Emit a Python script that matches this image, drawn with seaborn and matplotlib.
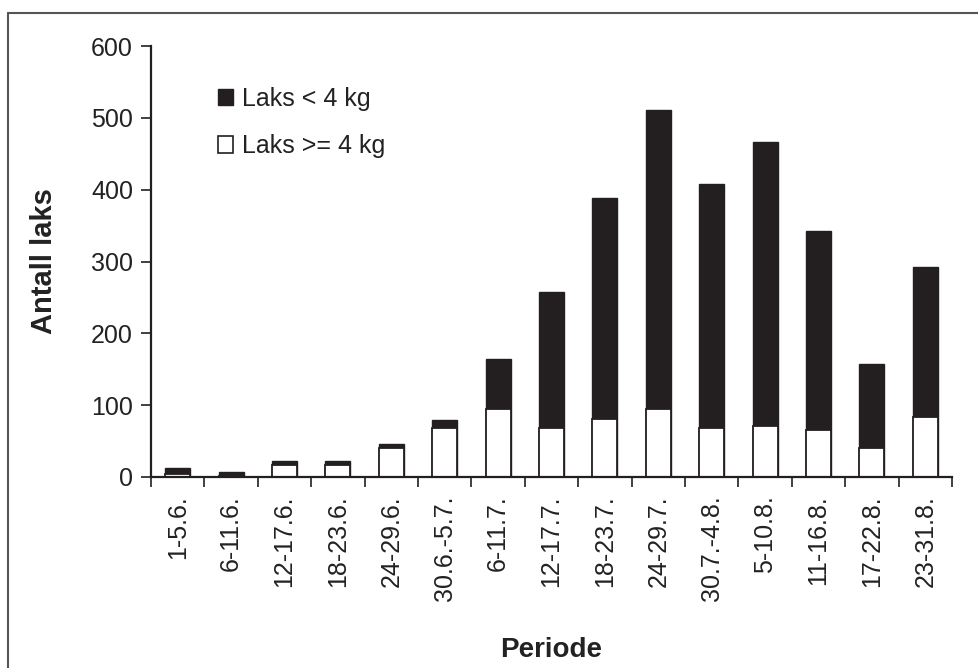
import matplotlib
matplotlib.use("Agg")
import matplotlib.pyplot as plt
from matplotlib.lines import Line2D
from matplotlib.patches import Patch
import seaborn as sns
import numpy as np
import pandas as pd

periods = ["1-5.6.", "6-11.6.", "12-17.6.", "18-23.6.", "24-29.6.", "30.6.-5.7.",
           "6-11.7.", "12-17.7.", "18-23.7.", "24-29.7.", "30.7.-4.8.", "5-10.8.",
           "11-16.8.", "17-22.8.", "23-31.8."]
total = [13, 7, 22, 22, 46, 80, 164, 258, 388, 511, 408, 466, 342, 158, 293]
large = [4, 1, 17, 17, 41, 68, 95, 68, 81, 95, 68, 71, 65, 41, 83]

df = pd.DataFrame({"Periode": periods, "total": total, "large": large})

sns.set_style("white")
plt.rcParams["font.family"] = ["Liberation Sans", "DejaVu Sans"]

DARK = "#231f20"
fig = plt.figure(figsize=(9.79, 6.68), dpi=100)
ax = fig.add_axes([151/979, 1-477/668, (952-151)/979, (477-46)/668])

sns.barplot(data=df, x="Periode", y="total", color=DARK, width=0.47,
            edgecolor=DARK, linewidth=1, saturation=1, ax=ax)
sns.barplot(data=df, x="Periode", y="large", color="white", width=0.47,
            edgecolor=DARK, linewidth=1.3, saturation=1, ax=ax)

ax.set_xlim(-0.5, len(periods) - 0.5)
ax.set_ylim(0, 600)
ax.set_yticks(np.arange(0, 601, 100))
ax.tick_params(axis="y", which="major", direction="out", length=7, width=1.2,
               color=DARK, labelsize=18, pad=6, left=True, labelcolor="#222222")
ax.set_xticks(range(len(periods)))
ax.set_xticklabels(periods, rotation=90, fontsize=18, color="#222222")
ax.tick_params(axis="x", which="major", length=0, pad=13)
ax.set_xticks(np.arange(-0.5, len(periods) + 0.5, 1), minor=True)
ax.tick_params(axis="x", which="minor", direction="out", length=7, width=1.2,
               color=DARK, bottom=True)

for s in ["top", "right"]:
    ax.spines[s].set_visible(False)
for s in ["left", "bottom"]:
    ax.spines[s].set_color(DARK)
    ax.spines[s].set_linewidth(1.6)

ax.set_ylabel("Antall laks", fontsize=21, fontweight="bold", labelpad=24, color="#222222")
ax.set_xlabel("Periode", fontsize=20, fontweight="bold", labelpad=26, color="#222222")

handles = [Patch(facecolor=DARK, edgecolor=DARK, label="Laks < 4 kg"),
           Patch(facecolor="white", edgecolor=DARK, linewidth=1.2, label="Laks >= 4 kg")]
ax.legend(handles=handles, loc="upper left", bbox_to_anchor=(0.055, 0.958),
          frameon=False, fontsize=18, handlelength=0.62, handleheight=0.62,
          handletextpad=0.35, labelspacing=0.95, labelcolor="#222222")

# outer frame (top and left edges)
fig.add_artist(Line2D([8/979, 1], [1-13/668, 1-13/668], color="#555555", lw=1.5,
                      transform=fig.transFigure))
fig.add_artist(Line2D([8/979, 8/979], [0, 1-13/668], color="#555555", lw=1.5,
                      transform=fig.transFigure))

fig.savefig("out.png", dpi=100, facecolor="white")
